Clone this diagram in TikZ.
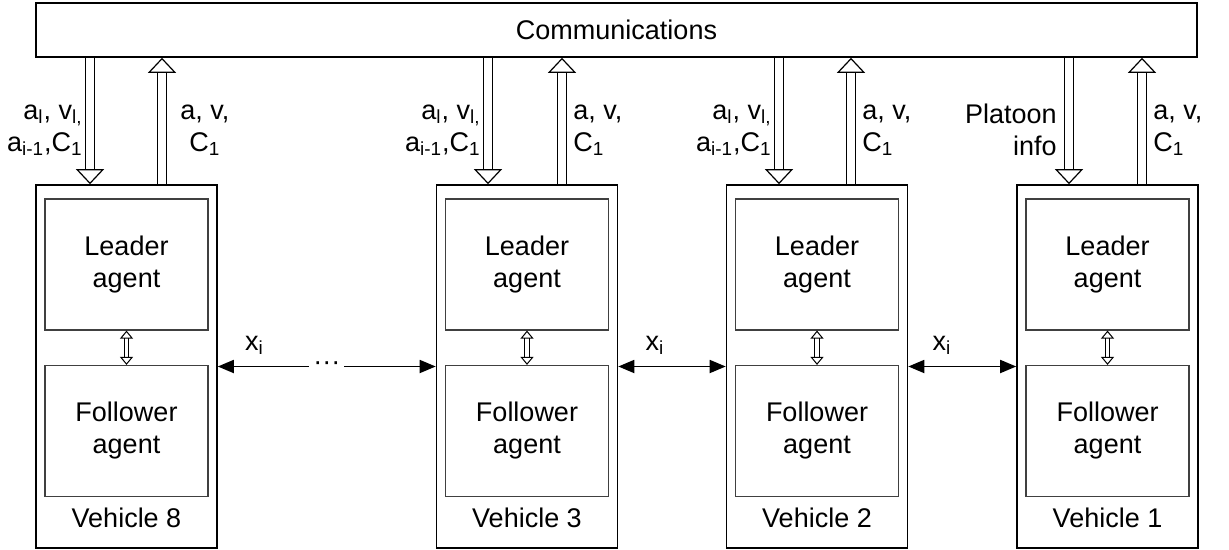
\documentclass[tikz,border=0pt]{standalone}
\usepackage{fontspec}
\setmainfont{Liberation Sans}
\usetikzlibrary{arrows.meta,positioning}

\tikzset{
  vehicle/.style={draw,line width=0.8pt,minimum width=90.5pt,minimum height=181.5pt},
  agent/.style={draw=black!75,line width=0.6pt,minimum width=81.5pt,minimum height=65.5pt,align=center},
  bigarrow/.style={double,double distance=3.8pt,line width=0.6pt,-{Triangle[open,width=14pt,length=7.5pt]}},
  smallarrow/.style={double,double distance=1.8pt,line width=0.5pt,
    {Triangle[open,width=6.5pt,length=4pt]}-{Triangle[open,width=6.5pt,length=4pt]}},
  gaparrow/.style={line width=0.9pt,{Triangle[length=8pt,width=6.5pt]}-{Triangle[length=8pt,width=6.5pt]}},
  info/.style={inner sep=0pt}
}

\begin{document}
\begin{tikzpicture}[x=0.5pt,y=-0.5pt,font=\fontsize{13.5}{16}\selectfont]
  \useasboundingbox (0,0) rectangle (1229,550);
  \node[draw,line width=0.8pt,minimum width=580.5pt,minimum height=27pt] (comm) at (616.5,30) {Communications};

  % vehicles
  \node[vehicle] (v8) at (126.5,366.5) {};
  \node[agent] (lead8) at (126.5,264.5) {Leader\\agent};
  \node[agent] (foll8) at (126.5,431) {Follower\\agent};
  \node[info,anchor=base] at ([yshift=10.5pt]v8.south) {Vehicle 8};

  \node[vehicle] (v3) at (527,366.5) {};
  \node[agent] (lead3) at (527,264.5) {Leader\\agent};
  \node[agent] (foll3) at (527,431) {Follower\\agent};
  \node[info,anchor=base] at ([yshift=10.5pt]v3.south) {Vehicle 3};

  \node[vehicle] (v2) at (817,366.5) {};
  \node[agent] (lead2) at (817,264.5) {Leader\\agent};
  \node[agent] (foll2) at (817,431) {Follower\\agent};
  \node[info,anchor=base] at ([yshift=10.5pt]v2.south) {Vehicle 2};

  \node[vehicle] (v1) at (1107.5,366.5) {};
  \node[agent] (lead1) at (1107.5,264.5) {Leader\\agent};
  \node[agent] (foll1) at (1107.5,431) {Follower\\agent};
  \node[info,anchor=base] at ([yshift=10.5pt]v1.south) {Vehicle 1};

  % leader <-> follower
  \draw[smallarrow] (lead8) -- (foll8);
  \draw[smallarrow] (lead3) -- (foll3);
  \draw[smallarrow] (lead2) -- (foll2);
  \draw[smallarrow] (lead1) -- (foll1);

  % links to communications
  \coordinate (d8) at ([xshift=-18.25pt]v8.north);
  \coordinate (u8) at ([xshift=17.75pt]v8.north);
  \coordinate (d3) at ([xshift=-19.5pt]v3.north);
  \coordinate (u3) at ([xshift=17.5pt]v3.north);
  \coordinate (d2) at ([xshift=-19pt]v2.north);
  \coordinate (u2) at ([xshift=17pt]v2.north);
  \coordinate (d1) at ([xshift=-19.25pt]v1.north);
  \coordinate (u1) at ([xshift=17.25pt]v1.north);
  \draw[bigarrow] (d8 |- comm.south) -- (d8);
  \draw[bigarrow] (u8) -- (u8 |- comm.south);
  \draw[bigarrow] (d3 |- comm.south) -- (d3);
  \draw[bigarrow] (u3) -- (u3 |- comm.south);
  \draw[bigarrow] (d2 |- comm.south) -- (d2);
  \draw[bigarrow] (u2) -- (u2 |- comm.south);
  \draw[bigarrow] (d1 |- comm.south) -- (d1);
  \draw[bigarrow] (u1) -- (u1 |- comm.south);

  \node[info,anchor=east,align=right] at ([xshift=-3.5pt,yshift=27pt]d8)
    {a\textsubscript{l}, v\textsubscript{l,}\\a\textsubscript{i-1},C\textsubscript{1}};
  \node[info,anchor=west,align=center] at ([xshift=9pt,yshift=27pt]u8) {a, v,\\C\textsubscript{1}};
  \node[info,anchor=east,align=right] at ([xshift=-3.5pt,yshift=27pt]d3)
    {a\textsubscript{l}, v\textsubscript{l,}\\a\textsubscript{i-1},C\textsubscript{1}};
  \node[info,anchor=west,align=left] at ([xshift=5.5pt,yshift=27pt]u3) {a, v,\\C\textsubscript{1}};
  \node[info,anchor=east,align=right] at ([xshift=-3.5pt,yshift=27pt]d2)
    {a\textsubscript{l}, v\textsubscript{l,}\\a\textsubscript{i-1},C\textsubscript{1}};
  \node[info,anchor=west,align=left] at ([xshift=5.5pt,yshift=27pt]u2) {a, v,\\C\textsubscript{1}};
  \node[info,anchor=east,align=right] at ([xshift=-6pt,yshift=27pt]d1) {Platoon\\info};
  \node[info,anchor=west,align=left] at ([xshift=5.5pt,yshift=27pt]u1) {a, v,\\C\textsubscript{1}};

  % spacing between vehicles
  \draw[gaparrow] (v8) -- (v3) node[midway,fill=white,inner sep=2pt] {···};
  \draw[gaparrow] (v3) -- (v2);
  \draw[gaparrow] (v2) -- (v1);
  \node[info,anchor=base west] at ([xshift=13.5pt,yshift=8pt]v8.east) {x\textsubscript{i}};
  \node[info,anchor=base west] at ([xshift=13.5pt,yshift=8pt]v3.east) {x\textsubscript{i}};
  \node[info,anchor=base west] at ([xshift=12pt,yshift=8pt]v2.east) {x\textsubscript{i}};
\end{tikzpicture}
\end{document}
